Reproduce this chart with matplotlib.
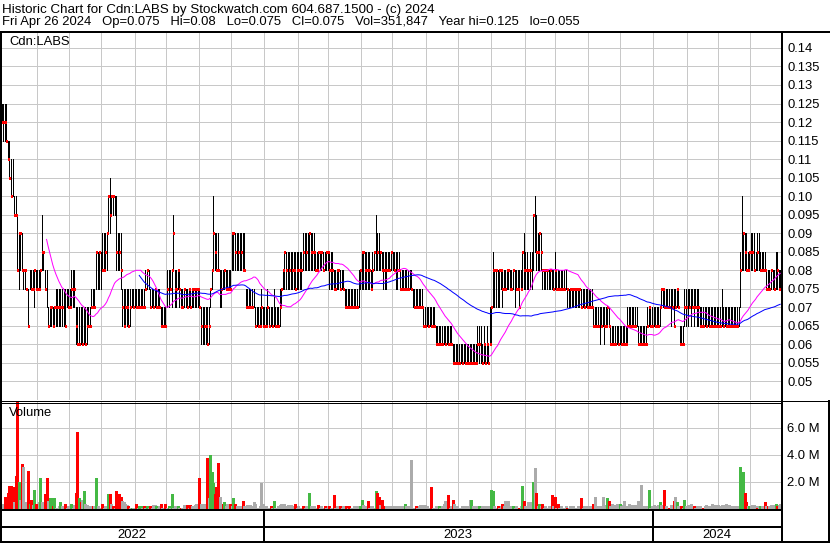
import numpy as np
import pandas as pd
import matplotlib
matplotlib.use("Agg")
import matplotlib.pyplot as plt

plt.rcParams['font.family'] = ['Liberation Sans', 'DejaVu Sans']
plt.rcParams['font.size'] = 9

TITLE = "Historic Chart for Cdn:LABS by Stockwatch.com 604.687.1500 - (c) 2024"
SUBTITLE = "Fri Apr 26 2024   Op=0.075   Hi=0.08   Lo=0.075   Cl=0.075   Vol=351,847   Year hi=0.125   lo=0.055"
SYMBOL = "Cdn:LABS"
VOL_TITLE = "Volume"

# daily high / low / close in thousandths of a dollar
HIGH = [
    125,125,125,125,115,115,110,110,100,100, 95,90,90,90,80,80,75,75,80,80,
    80,80,80,80,80,80,95,85,80,80, 70,70,70,70,70,75,75,75,75,75,
    75,75,75,75,75,80,80,80,70,70, 70,70,70,70,70,70,70,70,75,75,
    75,85,85,85,85,90,90,90,90,100, 105,100,100,100,100,90,90,90,75,75,
    75,75,75,75,75,75,75,75,75,75, 75,75,75,80,80,80,75,75,75,75,
    75,75,75,70,70,70,70,80,80,80, 80,95,80,80,80,80,75,75,75,75,
    75,75,75,75,75,75,75,75,75,70, 70,70,70,70,70,75,80,100,90,90,
    90,80,80,80,80,80,80,80,80,90, 90,90,90,90,90,90,90,90,75,75,
    75,75,75,75,70,70,70,70,75,70, 70,70,75,70,70,70,75,70,70,70,
    75,75,80,85,85,85,85,85,85,85, 85,85,85,85,85,90,90,90,90,90,
    90,90,90,85,85,85,85,85,85,85, 85,85,85,85,85,80,80,80,80,80,
    80,80,75,75,75,75,75,75,75,75, 75,80,80,85,85,85,85,85,85,80,
    85,85,95,90,90,85,85,85,85,85, 85,85,85,85,85,85,85,85,80,80,
    80,80,80,80,80,80,75,75,75,75, 75,75,75,70,70,70,70,70,70,70,
    70,65,65,65,65,65,65,65,65,65, 65,65,60,60,60,60,60,60,60,60,
    60,60,60,60,60,60,60,60,65,65, 65,60,65,60,65,60,70,70,85,80,
    80,80,80,80,80,80,80,80,80,80, 80,80,80,80,80,80,80,85,90,85,
    85,80,85,85,95,100,95,90,90,90, 80,80,80,80,80,80,80,80,85,80,
    80,80,80,80,80,80,75,75,75,75, 75,75,75,75,75,75,75,75,75,75,
    75,75,75,70,70,70,70,70,70,70, 70,70,70,70,65,65,65,65,65,65,
    65,65,65,65,65,70,70,70,70,70, 70,70,65,65,65,65,65,65,70,70,
    70,70,70,70,70,70,70,75,75,75, 75,75,75,75,75,75,75,75,75,65,
    65,65,75,75,75,75,75,75,75,75, 75,75,70,70,70,70,70,70,70,70,
    70,70,70,70,70,70,75,70,70,70, 70,70,70,70,70,70,70,70,85,100,
    90,90,90,85,85,90,90,90,85,90, 90,85,85,85,85,80,80,80,80,80,
    80,85,85,80,80]
LOW = [
    120,115,115,115,110,105,100,100,95,95, 80,75,80,80,75,75,75,65,75,75,
    75,70,75,75,75,75,80,80,75,70, 65,65,65,65,65,65,65,65,65,65,
    65,65,70,70,70,70,70,70,60,60, 60,60,60,60,60,60,65,65,70,70,
    70,75,75,75,75,80,80,80,80,90, 90,95,95,95,80,80,80,75,65,65,
    65,65,65,65,70,70,70,70,70,70, 70,70,70,75,75,75,70,70,70,70,
    70,70,70,65,65,65,65,70,70,75, 70,80,70,70,75,70,70,70,70,70,
    70,70,70,70,70,70,70,70,70,60, 60,60,60,60,60,70,75,80,80,80,
    80,70,70,75,75,75,75,75,75,80, 80,80,80,80,80,80,80,80,70,70,
    70,70,70,70,65,65,65,65,65,65, 65,65,65,65,65,65,65,65,65,65,
    65,70,75,75,75,75,75,75,75,75, 75,75,75,75,75,80,80,80,80,80,
    80,80,80,80,80,80,80,80,80,80, 80,80,75,75,75,75,75,75,75,75,
    75,75,70,70,70,70,70,70,70,70, 70,70,75,75,75,75,75,75,75,75,
    75,80,80,80,80,80,80,75,75,75, 80,80,80,80,80,75,75,80,75,75,
    75,75,75,75,75,75,70,70,70,70, 70,70,70,65,65,65,65,65,65,65,
    65,60,60,60,60,60,60,60,60,60, 60,60,55,55,55,55,55,55,55,55,
    55,55,55,55,55,55,55,55,55,55, 55,55,55,55,55,55,60,60,70,70,
    70,70,70,75,70,75,75,75,75,75, 75,75,70,75,75,70,75,75,75,75,
    75,75,75,75,80,85,80,80,80,80, 75,75,75,75,75,75,75,75,75,75,
    75,75,75,75,75,75,70,70,70,70, 70,70,70,70,70,70,70,70,70,70,
    70,70,70,65,65,65,65,60,65,65, 60,65,65,65,60,60,60,60,60,60,
    60,60,60,60,60,60,65,65,65,65, 65,65,60,60,60,60,60,60,65,65,
    65,65,65,65,65,65,65,70,70,70, 70,70,70,65,70,65,70,70,70,60,
    60,60,65,65,65,70,65,70,65,70, 65,65,65,65,65,65,65,65,65,65,
    65,65,65,65,65,65,65,65,65,65, 65,65,65,65,65,65,65,65,70,80,
    80,80,80,80,80,80,80,80,80,80, 80,80,80,80,80,75,75,75,75,75,
    75,75,75,75,75]
CLOSE = [
    120,120,120,115,110,105,100,100,95,95, 80,90,90,80,80,80,75,65,75,75,
    75,80,75,75,75,80,85,85,75,75, 65,70,70,65,70,70,70,70,70,70,
    70,65,70,70,70,75,75,75,65,60, 60,60,60,65,60,65,65,65,70,70,
    70,85,80,85,85,80,80,85,90,100, 95,100,100,100,85,85,85,80,70,65,
    70,70,65,70,70,70,70,70,70,70, 70,70,70,75,80,75,70,70,70,75,
    70,70,70,65,65,65,65,75,75,75, 80,90,75,75,80,75,70,70,75,75,
    70,75,70,75,75,75,75,75,70,65, 65,65,65,60,65,75,80,90,85,80,
    80,75,75,75,80,75,75,75,75,90, 90,85,85,85,85,85,80,80,70,70,
    70,70,70,70,65,65,65,65,70,65, 65,65,70,65,65,65,70,65,65,65,
    70,75,80,85,80,80,80,80,80,80, 75,80,80,80,80,85,85,85,85,90,
    85,85,85,80,80,85,85,85,80,80, 85,85,80,80,80,75,75,80,80,75,
    75,75,70,70,70,70,70,70,70,70, 70,75,80,85,85,80,80,80,80,75,
    80,85,90,85,80,85,80,80,80,80, 80,80,85,80,80,80,80,80,75,75,
    75,75,75,75,75,75,70,70,70,70, 70,70,70,65,65,65,65,65,65,65,
    65,60,60,60,60,60,60,60,60,60, 60,60,55,55,55,55,55,55,55,55,
    55,55,55,55,55,55,55,55,60,60, 60,55,60,55,60,55,60,70,80,80,
    80,75,80,80,75,75,75,80,80,75, 75,80,75,75,75,70,75,85,80,80,
    80,80,80,80,95,90,85,85,90,85, 80,80,80,80,80,80,75,75,80,75,
    75,75,75,75,75,75,75,75,75,75, 75,75,75,75,75,70,70,70,70,70,
    70,70,70,65,65,65,65,65,65,65, 65,65,70,65,60,60,60,60,60,60,
    65,60,60,60,60,65,65,65,65,65, 65,65,60,60,60,60,60,60,65,70,
    65,65,65,65,65,65,70,75,75,70, 70,70,70,70,70,65,70,75,70,60,
    60,60,70,70,70,70,70,70,70,70, 70,70,65,65,65,65,65,65,65,65,
    65,65,65,65,65,65,65,65,65,65, 65,65,65,65,65,65,65,70,80,95,
    90,85,80,80,85,85,85,80,80,85, 80,80,80,80,80,75,75,75,80,75,
    75,80,80,75,75]
# daily volume in millions of shares
VOLUME_M = [
    0.4,0.3,0.9,0.6,1.2,1.7,1.7,1.6,0.5,2.4, 8.5,2.0,0.7,3.3,3.1,0.5,0.2,2.8,0.4,0.7,
    0.3,1.4,0.4,0.2,0.5,2.3,0.5,0.2,1.1,2.3, 0.6,0.8,0.8,0.2,0.8,0.1,0.1,0.2,0.5,0.2,
    0.1,0.4,0.1,0.2,0.2,0.4,0.1,0.3,1.2,5.7, 0.8,0.5,0.7,1.3,0.4,0.3,0.2,0.2,0.1,0.2,
    0.2,2.3,0.2,0.1,0.1,0.4,0.1,0.2,0.2,1.1, 1.1,0.4,0.2,0.1,1.3,0.9,1.1,0.9,0.6,0.5,
    0.4,0.3,0.2,0.1,0.1,0.1,0.1,0.4,0.1,0.2, 0.2,0.1,0.2,0.1,0.2,0.1,0.2,0.1,0.3,0.3,
    0.2,0.1,0.2,0.4,0.1,0.1,0.4,0.1,0.2,0.1, 1.1,0.1,0.2,0.1,0.2,0.1,0.1,0.1,0.3,0.2,
    0.3,0.1,0.3,0.2,0.2,0.3,0.4,0.3,2.3,0.4, 0.3,0.4,0.4,3.8,0.8,4.0,2.7,1.9,1.1,1.6,
    3.4,0.9,0.3,0.4,0.5,0.2,0.4,0.2,0.4,0.2, 0.8,0.4,0.2,0.2,0.1,0.2,0.6,0.2,0.1,0.3,
    0.3,0.3,0.2,0.5,0.4,0.1,0.1,0.2,1.9,0.4, 0.2,0.2,0.1,0.1,0.2,0.1,0.6,0.1,0.1,0.2,
    0.3,0.4,0.3,0.4,0.2,0.3,0.2,0.3,0.2,0.2, 0.4,0.1,0.2,0.1,0.1,0.2,0.1,0.2,0.1,1.2,
    0.2,0.1,0.2,0.1,0.1,0.3,0.1,0.2,0.1,0.2, 0.1,0.2,0.2,0.1,0.1,1.0,0.1,0.2,0.1,0.2,
    0.1,0.2,0.1,0.2,0.1,0.2,0.1,0.1,0.2,0.1, 0.2,0.1,0.2,0.7,0.3,0.2,0.2,0.6,0.1,0.2,
    0.2,0.1,1.3,1.2,0.9,0.3,0.7,0.2,0.2,0.2, 0.1,0.2,0.2,0.1,0.2,0.1,0.2,0.2,0.1,0.2,
    0.2,0.4,0.2,0.2,0.1,3.6,0.1,0.1,0.2,0.1, 0.2,0.3,0.3,0.3,0.3,0.2,0.1,0.1,1.6,0.1,
    0.1,0.2,0.1,0.2,0.1,0.2,0.4,0.6,0.1,1.0, 0.1,0.2,0.7,0.4,0.1,0.2,0.1,0.1,0.2,0.1,
    0.2,0.1,0.2,0.7,0.7,0.2,0.1,0.2,0.1,0.2, 0.1,0.2,0.1,0.2,0.1,0.2,0.2,1.4,1.3,0.2,
    0.1,0.2,0.1,0.2,0.4,0.2,0.6,0.2,0.6,0.1, 0.2,0.2,0.1,0.2,0.1,0.1,0.2,1.7,0.6,0.2,
    0.1,0.5,0.5,0.2,2.0,3.0,1.2,0.2,0.4,0.2, 0.4,0.1,0.2,0.1,0.2,0.1,1.0,0.2,0.9,0.1,
    0.4,0.1,0.2,0.1,0.1,0.2,0.1,0.1,0.2,0.1, 0.2,0.1,0.1,0.2,0.1,0.8,0.1,0.2,0.1,0.2,
    0.2,0.1,0.2,0.4,0.9,0.2,0.2,0.1,0.2,0.9, 0.3,0.2,0.8,0.6,0.2,0.4,0.2,0.3,0.4,0.2,
    0.4,0.2,0.3,0.6,0.2,0.2,0.4,0.2,0.3,0.2, 0.3,0.2,0.6,0.3,1.8,0.2,0.1,0.2,0.1,1.4,
    0.1,0.2,0.3,0.2,0.2,0.3,0.5,0.3,0.2,1.4, 0.2,0.1,0.1,0.3,0.2,0.6,0.9,0.5,0.2,0.2,
    0.2,0.1,0.7,0.2,0.3,0.2,0.4,0.2,0.2,0.1, 0.2,0.1,0.2,0.1,0.1,0.2,0.3,0.2,0.1,0.2,
    0.4,0.3,0.2,0.3,0.3,0.2,0.3,0.2,0.3,0.4, 0.2,0.3,0.2,0.1,0.2,0.1,0.2,0.2,3.1,1.8,
    2.7,1.2,0.5,0.2,0.2,0.2,0.3,0.3,0.2,0.1, 0.2,0.2,0.2,0.2,0.5,0.2,0.2,0.2,0.3,0.3,
    0.2,0.4,0.2,0.3,0.35]
# volume bar direction: r = down day, g = up day, n = unchanged
VOL_DIR = (
    "nnrrrrrrnr" "rgnrnnnrgr" "ngrrngnnrr" "nggrgnnngn" "nrnnngnnrr"
    "grngnnnnnr" "ngnnnrnnng" "rnrnrrrrnn" "nnrngnnrng" "gnrngnrnnn"
    "gnnrnnrngn" "gnnngnrnnn" "rnrnnnnnrn" "nnnrngggrr" "rnnrgnnnrn"
    "grnnnnrnnn" "nnnnnnnnnn" "nnnnrngnnn" "nnnnnnnnnn" "rnnnnrnnng"
    "nnnnnrnnnr" "nnrnnrnnnr" "nnnrnrnnnn" "nnggnnnrnn" "nngrrnrrrn"
    "nnnnnnnnnn" "ngnnnnnnrn" "nnnnnnnnrn" "nnngnnnnnr" "nnrnnnnnnn"
    "nnnngnnnng" "nnnnnnnggn" "nrnnrnnnnn" "ngnnnrngrn" "nnnngnrngn"
    "rnnnnnrnrn" "rnnnnnrnnn" "nnnnnrnnnn" "nnnrnnnnnn" "nngrnnnnnn"
    "gnnnnnnnnn" "nnnnnnnnng" "nnnnnngnnr" "nnrnnrngnn" "rngnnnnnrn"
    "nnnnrnnnnn" "nnnnnnnnnn" "nnnnnnnngg" "grrngnnnnr" "ngnnrnrnnn"
    "ngrnn")
DIR_COLORS = {"r": "#FF0000", "g": "#44B944", "n": "#ABABAB"}

# trading-day index of first session of each month (vertical grid)
MONTH_START_IDX = [23, 44, 65, 87, 107, 128, 149, 170, 192, 212, 233, 253,
                   275, 296, 317, 339, 359, 380, 401, 422, 444, 464, 485]
YEAR_START_IDX = [170, 422]
YEARS = ["2022", "2023", "2024"]

PRICE_TICKS = [0.05, 0.055, 0.06, 0.065, 0.07, 0.075, 0.08, 0.085, 0.09, 0.095,
               0.10, 0.105, 0.11, 0.115, 0.12, 0.125, 0.13, 0.135, 0.14]
PRICE_LABELS = ["0.05", "0.055", "0.06", "0.065", "0.07", "0.075", "0.08", "0.085",
                "0.09", "0.095", "0.10", "0.105", "0.11", "0.115", "0.12", "0.125",
                "0.13", "0.135", "0.14"]
VOL_TICKS = [2, 4, 6]
VOL_LABELS = ["2.0 M", "4.0 M", "6.0 M"]
MA_SHORT = 30
MA_LONG = 90

# ---------------------------------------------------------------------------
n = len(CLOSE)
x = np.arange(n)
high = np.array(HIGH) / 1000.0
low = np.array(LOW) / 1000.0
close = np.array(CLOSE) / 1000.0
vol = np.array(VOLUME_M)
vcol = [DIR_COLORS[c] for c in VOL_DIR]
ma_s = pd.Series(close).rolling(MA_SHORT).mean().to_numpy()
ma_l = pd.Series(close).rolling(MA_LONG).mean().to_numpy()

W, H = 830, 543
PX = 0.72  # points per pixel at 100 dpi
FS = 9.4
fig = plt.figure(figsize=(W / 100, H / 100), dpi=100)
fig.patch.set_facecolor("white")


def frac(x0, y0, x1, y1):
    return [x0 / W, 1 - y1 / H, (x1 - x0) / W, (y1 - y0) / H]


GRID = "#C8C8C8"
ax1 = fig.add_axes(frac(1, 32, 781, 400))
ax2 = fig.add_axes(frac(1, 402, 781, 509))
ax3 = fig.add_axes(frac(1, 509, 781, 542))
for ax in (ax1, ax2, ax3):
    for s in ax.spines.values():
        s.set_visible(False)
    ax.set_xlim(-0.5, n - 0.5)

grid_x = [m - 0.5 for m in MONTH_START_IDX]

# price panel
ax1.set_ylim(0.045, 0.1443)
ax1.set_xticks(grid_x)
ax1.set_xticklabels([])
ax1.set_yticks(PRICE_TICKS)
ax1.set_yticklabels(PRICE_LABELS)
ax1.yaxis.set_ticks_position("right")
ax1.tick_params(axis="both", length=0, labelsize=FS, pad=4.5)
ax1.tick_params(axis="x", pad=0)
ax1.grid(True, color=GRID, linewidth=1 * PX)
ax1.set_axisbelow(True)
ax1.vlines(x, low, high, colors="black", linewidth=1 * PX, antialiased=False, zorder=2)
ax1.hlines(close, x, x + 0.55, colors="#FF0000", linewidth=1.3 * PX,
           antialiased=False, zorder=3)
ax1.plot(x, ma_s, color="#FF00FF", linewidth=1 * PX, zorder=4)
ax1.plot(x, ma_l, color="#0000FF", linewidth=1 * PX, zorder=4)
ax1.text(8 / 780, 1 - 10 / 368, SYMBOL, transform=ax1.transAxes, fontsize=FS,
         ha="left", va="center")

# volume panel
ax2.set_ylim(0, 7.9)
ax2.set_xticks(grid_x)
ax2.set_xticklabels([])
ax2.set_yticks(VOL_TICKS)
ax2.set_yticklabels(VOL_LABELS)
ax2.yaxis.set_ticks_position("right")
ax2.tick_params(axis="both", length=0, labelsize=FS, pad=4.5)
ax2.grid(True, color=GRID, linewidth=1 * PX)
ax2.set_axisbelow(True)
ax2.vlines(x, 0, vol, colors=vcol, linewidth=1.1 * PX, antialiased=False, zorder=2)
ax2.text(8 / 780, 1 - 11 / 107, VOL_TITLE, transform=ax2.transAxes, fontsize=FS,
         ha="left", va="center", zorder=5)

# date rows
ax3.set_ylim(0, 33)
ax3.set_xticks([])
ax3.set_yticks([])
bounds = [-0.5] + [y - 0.5 for y in YEAR_START_IDX] + [n - 0.5]
ax3.vlines([y - 0.5 for y in YEAR_START_IDX], 0, 33, colors="black",
           linewidth=2 * PX)
for i, label in enumerate(YEARS):
    ax3.text((bounds[i] + bounds[i + 1]) / 2, 7.5, label, ha="center",
             va="center", fontsize=FS)

# overlay: frame and header text in pixel coordinates
ov = fig.add_axes([0, 0, 1, 1], zorder=10)
ov.set_xlim(0, W)
ov.set_ylim(H, 0)
ov.axis("off")
ov.patch.set_alpha(0)


def line(xs, ys, w):
    ov.plot(xs, ys, color="black", linewidth=w * PX, solid_capstyle="butt")


line([0, W], [31.5, 31.5], 2)
line([1, 1], [31, H], 2)
line([781.5, 781.5], [31, 542], 2)
line([0, W], [400.5, 400.5], 1)
line([0, 781.5], [402.5, 402.5], 1)
line([0, 781.5], [509.5, 509.5], 2)
line([0, 781.5], [527, 527], 2)
line([0, W], [541.5, 541.5], 2)
line([828.5, 828.5], [400, 542], 2)

ov.text(2, 9.5, TITLE, fontsize=9.6, ha="left", va="center")
ov.text(2, 22.5, SUBTITLE, fontsize=FS, ha="left", va="center")

fig.savefig("out.png", dpi=100)
